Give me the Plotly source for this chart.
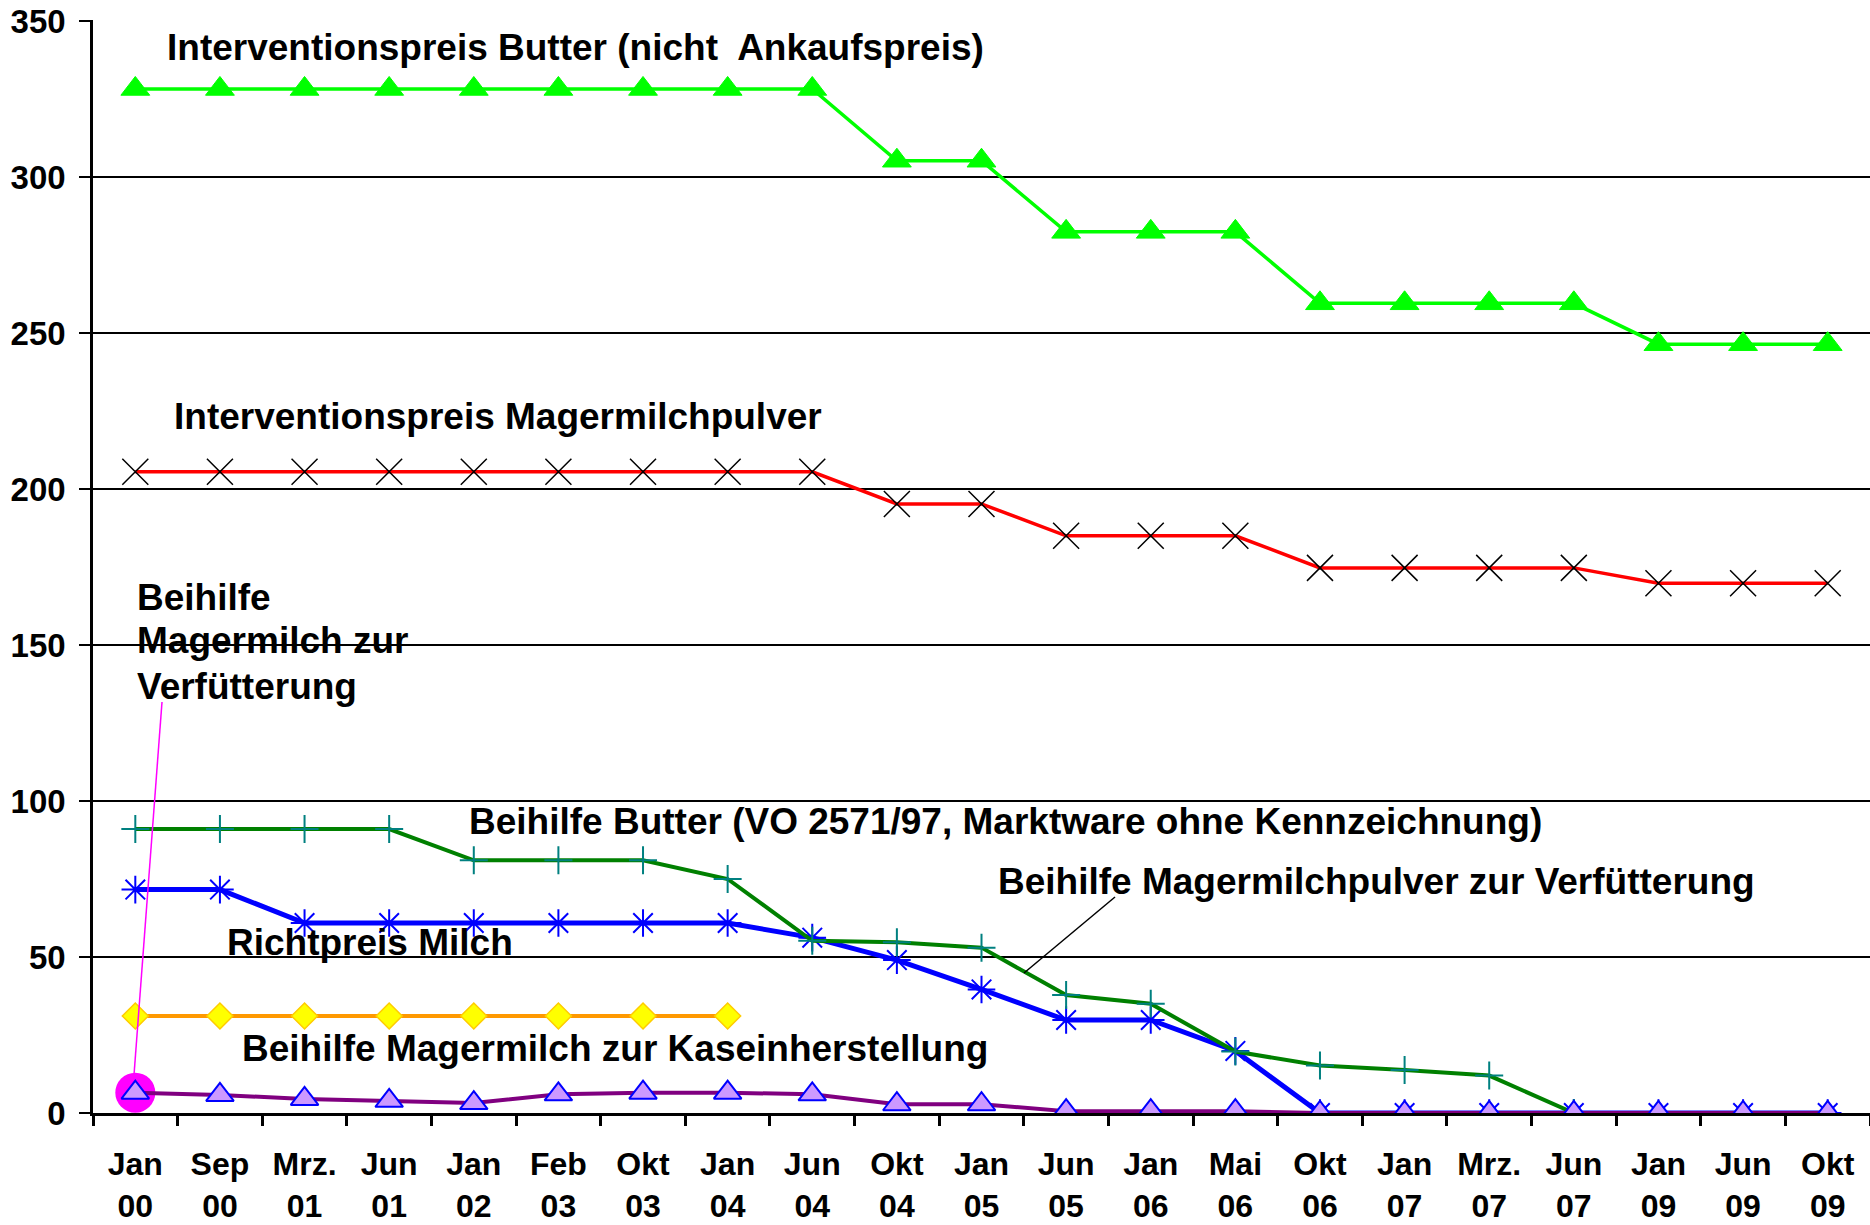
import plotly.graph_objects as go

# ---------------- data ----------------
categories = ["Jan<br>00", "Sep<br>00", "Mrz.<br>01", "Jun<br>01", "Jan<br>02", "Feb<br>03",
              "Okt<br>03", "Jan<br>04", "Jun<br>04", "Okt<br>04", "Jan<br>05", "Jun<br>05",
              "Jan<br>06", "Mai<br>06", "Okt<br>06", "Jan<br>07", "Mrz.<br>07", "Jun<br>07",
              "Jan<br>09", "Jun<br>09", "Okt<br>09"]

interventionspreis_butter = [328.2, 328.2, 328.2, 328.2, 328.2, 328.2, 328.2, 328.2, 328.2,
                             305.2, 305.2, 282.4, 282.4, 282.4, 259.5, 259.5, 259.5, 259.5,
                             246.4, 246.4, 246.4]
interventionspreis_mmp = [205.5, 205.5, 205.5, 205.5, 205.5, 205.5, 205.5, 205.5, 205.5,
                          195.2, 195.2, 185.0, 185.0, 185.0, 174.7, 174.7, 174.7, 174.7,
                          169.8, 169.8, 169.8]
beihilfe_butter = [91.0, 91.0, 91.0, 91.0, 81.0, 81.0, 81.0, 75.0, 55.2, 54.7, 53.0, 37.8,
                   35.0, 19.7, 15.2, 13.8, 12.0, 0.0, None, None, None]
richtpreis_milch = [71.6, 71.6, 60.9, 60.9, 60.9, 60.9, 60.9, 60.9, 56.2, 49.0, 39.6, 29.8,
                    29.8, 19.9, 0.0, 0.0, 0.0, 0.0, 0.0, 0.0, 0.0]
beihilfe_kasein = [31.1, 31.1, 31.1, 31.1, 31.1, 31.1, 31.1, 31.1, None, None, None, None,
                   None, None, None, None, None, None, None, None, None]
beihilfe_verfuetterung = [6.5, 5.8, 4.5, 3.9, 3.2, 6.0, 6.5, 6.5, 6.0, 2.8, 2.8, 0.6, 0.6,
                          0.6, 0.0, 0.0, 0.0, 0.0, 0.0, 0.0, 0.0]
y_ticks = [0, 50, 100, 150, 200, 250, 300, 350]

# ---------------- layout helpers ----------------
# the page body margin is removed (post_script), so the figure fills the window
W, H = 1870, 1225
PLOT_L, PLOT_R, PLOT_T, PLOT_B = 93, 1870, 20, 1113     # window pixels of the plot area
ML, MR, MT, MB = PLOT_L, W - PLOT_R, PLOT_T, H - PLOT_B
PW, PH = PLOT_R - PLOT_L, PLOT_B - PLOT_T
Y_MAX = 350.3   # a hair above 350 so the top grid line stays inside the plot


def px(x):
    return (x - PLOT_L) / PW


def py(y):
    return (PLOT_B - y) / PH


FONT = "Liberation Sans, Arial, sans-serif"

fig = go.Figure()

fig.add_trace(go.Scatter(
    x=categories, y=interventionspreis_butter, name="Interventionspreis Butter",
    mode="lines+markers", line=dict(color="#00FF00", width=3.5),
    marker=dict(symbol="triangle-up", size=25, color="#00FF00",
                line=dict(color="#00FF00", width=1))))

fig.add_trace(go.Scatter(
    x=categories, y=interventionspreis_mmp, name="Interventionspreis Magermilchpulver",
    mode="lines+markers", line=dict(color="#FF0000", width=3.5),
    marker=dict(symbol="x-thin-open", size=26, color="#000000",
                line=dict(color="#000000", width=1.5))))

fig.add_trace(go.Scatter(
    x=categories, y=richtpreis_milch, name="Richtpreis Milch",
    mode="lines+markers", line=dict(color="#0000FF", width=5),
    marker=dict(symbol="asterisk-open", size=23, color="#0000FF",
                line=dict(color="#0000FF", width=2))))

fig.add_trace(go.Scatter(
    x=categories, y=beihilfe_butter, name="Beihilfe Butter",
    mode="lines+markers", line=dict(color="#008000", width=4),
    marker=dict(symbol="cross-thin-open", size=20, color="#008080",
                line=dict(color="#008080", width=2))))

fig.add_trace(go.Scatter(
    x=categories, y=beihilfe_kasein, name="Beihilfe Magermilch zur Kaseinherstellung",
    mode="lines+markers", line=dict(color="#FF9900", width=4),
    marker=dict(symbol="diamond", size=20, color="#FFFF00",
                line=dict(color="#FFCC00", width=1.5))))

# highlight circle around first value
fig.add_trace(go.Scatter(
    x=categories[:1], y=beihilfe_verfuetterung[:1], name="Hervorhebung",
    mode="markers", marker=dict(symbol="circle", size=40, color="#FF00FF"),
    hoverinfo="skip"))

fig.add_trace(go.Scatter(
    x=categories, y=beihilfe_verfuetterung, name="Beihilfe Magermilch zur Verfütterung",
    mode="lines+markers", line=dict(color="#800080", width=4),
    marker=dict(symbol="triangle-up", size=24, color="#CC99FF",
                line=dict(color="#0000FF", width=2))))

annots = [
    ("Interventionspreis Butter (nicht\u00a0 Ankaufspreis)", 165, 48),
    ("Interventionspreis Magermilchpulver", 172, 416),
    ("Beihilfe", 135, 598),
    ("Magermilch zur", 135, 641),
    ("Verfütterung", 135, 686),
    ("Beihilfe Butter (VO 2571/97, Marktware ohne Kennzeichnung)", 467, 821),
    ("Beihilfe Magermilchpulver zur Verfütterung", 996, 882),
    ("Richtpreis Milch", 225, 942),
    ("Beihilfe Magermilch zur Kaseinherstellung", 240, 1048),
]
for text, x, y in annots:
    fig.add_annotation(text="<b>%s</b>" % text, xref="paper", yref="paper",
                       x=px(x), y=py(y), xanchor="left", yanchor="middle",
                       showarrow=False, font=dict(family=FONT, size=37, color="#000000"))

fig.add_shape(type="line", xref="paper", yref="paper",
              x0=px(162), y0=py(702), x1=px(134), y1=py(1075),
              line=dict(color="#FF00FF", width=1.5), layer="above")
fig.add_shape(type="line", xref="paper", yref="paper",
              x0=px(1115), y0=py(897), x1=px(1024), y1=py(973),
              line=dict(color="#000000", width=1.5), layer="above")

fig.update_layout(
    width=W, height=H,
    margin=dict(l=ML, r=MR, t=MT, b=MB, pad=0, autoexpand=False),
    paper_bgcolor="white", plot_bgcolor="white",
    showlegend=False,
    font=dict(family=FONT, color="#000000"),
)
fig.update_xaxes(
    type="category", categoryorder="array", categoryarray=categories,
    range=[-0.5, len(categories) - 0.5], automargin=False,
    showgrid=False, showline=True, linecolor="#000000", linewidth=3,
    ticks="outside", tickson="boundaries", ticklen=10, tickwidth=2.5, tickcolor="#000000",
    tickfont=dict(family=FONT, size=32, color="#000000"),
    tickangle=0, ticklabelstandoff=21, ticklabeloverflow="allow",
    tickvals=categories, ticktext=["<b>%s</b>" % c for c in categories],
    zeroline=False, fixedrange=True,
)
fig.update_yaxes(
    range=[0, Y_MAX], tickvals=y_ticks, ticktext=["<b>%d</b>" % v for v in y_ticks],
    automargin=False,
    showgrid=True, gridcolor="#000000", gridwidth=2,
    showline=True, linecolor="#000000", linewidth=2.5,
    ticks="outside", ticklen=11, tickwidth=2, tickcolor="#000000",
    tickfont=dict(family=FONT, size=33, color="#000000"),
    ticklabelstandoff=7, ticklabeloverflow="allow", zeroline=False, fixedrange=True,
)

fig.write_html("out.html",
               config={"displayModeBar": False, "staticPlot": False},
               post_script="document.body.style.margin='0';document.body.style.overflow='hidden';")
